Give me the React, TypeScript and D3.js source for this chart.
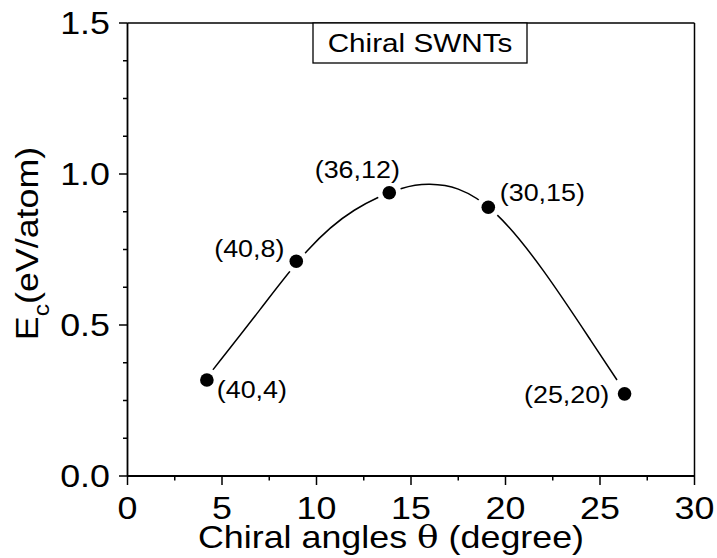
import React from "react";
import * as d3 from "d3";

const pointTheta = [4.2, 8.93, 13.85, 19.09, 26.3];
const pointEnergy = [0.318, 0.711, 0.938, 0.89, 0.272];
const pointLabels = ["(40,4)", "(40,8)", "(36,12)", "(30,15)", "(25,20)"];

const fitTheta = [4.5, 7, 9.5, 12, 14.5, 16, 17.5, 19.5, 22, 24.5, 25.9];
const fitEnergy = [0.35, 0.55, 0.745, 0.88, 0.952, 0.966, 0.95, 0.868, 0.68, 0.45, 0.318];

const xTicks = [0, 5, 10, 15, 20, 25, 30];
const xMinorTicks = [2.5, 7.5, 12.5, 17.5, 22.5, 27.5];
const yTicks = [0, 0.5, 1.0, 1.5];
const yMinorTicks = [0.125, 0.25, 0.375, 0.625, 0.75, 0.875, 1.125, 1.25, 1.375];

const labelOffsets = [
  [45, 18],
  [-47, -4],
  [-32, -15],
  [54, -6],
  [-58, 9],
];

const W = 717;
const H = 558;
const FONT = "'Liberation Sans', Arial, sans-serif";
const SX = 1.12;

export default function App() {
  const x = d3.scaleLinear().domain([0, 30]).range([127.5, 694.5]);
  const y = d3.scaleLinear().domain([0, 1.5]).range([476, 23]);
  const line = d3
    .line<number>()
    .x((_, i) => x(fitTheta[i]))
    .y((d) => y(d))
    .curve(d3.curveNatural);
  const fitPath = line(fitEnergy) || "";

  return (
    <svg
      width={W}
      height={H}
      style={{ position: "absolute", left: 0, top: 0, background: "#fff" }}
      fontFamily={FONT}
    >
      <rect x={0} y={0} width={W} height={H} fill="#fff" />
      {/* fitted curve */}
      <path d={fitPath} fill="none" stroke="#000" strokeWidth={1.5} />
      {/* gaps around points */}
      {pointTheta.map((t, i) => (
        <circle key={"g" + i} cx={x(t)} cy={y(pointEnergy[i])} r={12} fill="#fff" />
      ))}
      {pointTheta.map((t, i) => (
        <circle key={"p" + i} cx={x(t)} cy={y(pointEnergy[i])} r={6.8} fill="#000" />
      ))}
      {/* frame */}
      <line x1={x(0)} x2={x(30)} y1={y(1.5)} y2={y(1.5)} stroke="#000" strokeWidth={1.3} />
      <line x1={x(30)} x2={x(30)} y1={y(1.5)} y2={y(0)} stroke="#000" strokeWidth={1.5} />
      <line x1={x(0)} x2={x(0)} y1={y(1.5)} y2={y(0)} stroke="#000" strokeWidth={1.8} />
      <line x1={x(0)} x2={x(30)} y1={y(0)} y2={y(0)} stroke="#000" strokeWidth={1.8} />
      {/* x ticks */}
      {xTicks.map((t) => (
        <line key={"xt" + t} x1={x(t)} x2={x(t)} y1={y(0)} y2={y(0) + 9} stroke="#000" strokeWidth={1.5} />
      ))}
      {xMinorTicks.map((t) => (
        <line key={"xm" + t} x1={x(t)} x2={x(t)} y1={y(0)} y2={y(0) + 4.5} stroke="#000" strokeWidth={1.5} />
      ))}
      {xTicks.map((t) => (
        <text
          key={"xl" + t}
          transform={`translate(${x(t)},519) scale(${SX},1)`}
          textAnchor="middle"
          fontSize={32}
        >
          {t}
        </text>
      ))}
      {/* y ticks */}
      {yTicks.map((t) => (
        <line key={"yt" + t} x1={x(0) - 8.5} x2={x(0)} y1={y(t)} y2={y(t)} stroke="#000" strokeWidth={1.5} />
      ))}
      {yMinorTicks.map((t) => (
        <line key={"ym" + t} x1={x(0) - 4.5} x2={x(0)} y1={y(t)} y2={y(t)} stroke="#000" strokeWidth={1.5} />
      ))}
      {yTicks.map((t) => (
        <text
          key={"yl" + t}
          transform={`translate(110,${y(t) + 11}) scale(${SX},1)`}
          textAnchor="end"
          fontSize={32}
        >
          {d3.format(".1f")(t)}
        </text>
      ))}
      {/* axis titles */}
      <text transform={`translate(${(x(0) + x(30)) / 2 - 20},548) scale(${SX},1)`} textAnchor="middle" fontSize={32}>
        Chiral angles{" "}
        <tspan fontFamily="'DejaVu Serif', 'Liberation Serif', serif">θ</tspan> (degree)
      </text>
      <text transform={`translate(38,243.5) rotate(-90) scale(${SX},1)`} textAnchor="middle" fontSize={32}>
        E<tspan fontSize={22} dy={11}>c</tspan>
        <tspan dy={-11}>(eV/atom)</tspan>
      </text>
      {/* legend box */}
      <rect x={313} y={23} width={214} height={40} fill="#fff" stroke="#000" strokeWidth={1.3} />
      <text transform={`translate(420,52) scale(${SX},1)`} textAnchor="middle" fontSize={26.5}>
        Chiral SWNTs
      </text>
      {/* point labels */}
      {pointTheta.map((t, i) => (
        <text
          key={"l" + i}
          transform={`translate(${x(t) + labelOffsets[i][0]},${y(pointEnergy[i]) + labelOffsets[i][1]}) scale(${SX},1)`}
          textAnchor="middle"
          fontSize={24}
        >
          {pointLabels[i]}
        </text>
      ))}
    </svg>
  );
}
